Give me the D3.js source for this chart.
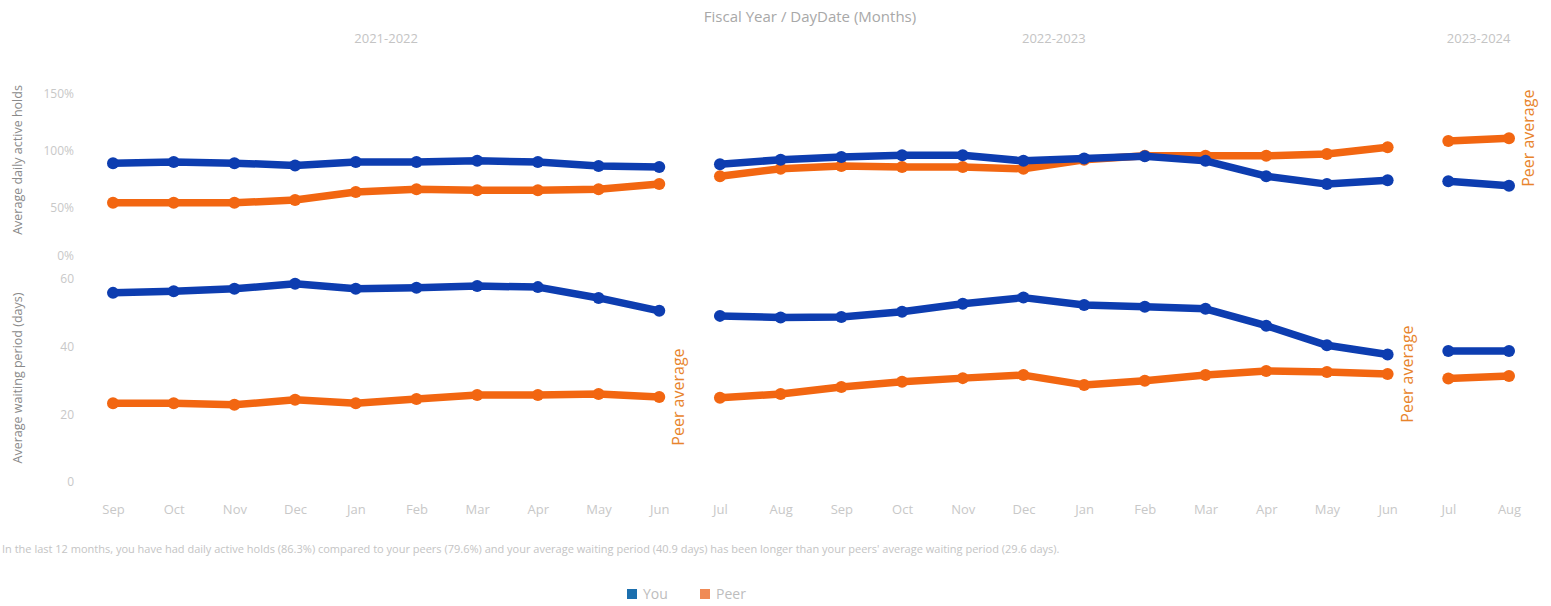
<!DOCTYPE html>
<html><head><meta charset="utf-8">
<script src="https://cdn.jsdelivr.net/npm/d3@7/dist/d3.min.js"></script>
<style>body{margin:0;background:#fff;}svg{display:block;font-family:"Open Sans",sans-serif;}</style>
</head><body><svg id="c" width="1551" height="606"></svg>
<script>
const months = ["Sep","Oct","Nov","Dec","Jan","Feb","Mar","Apr","May","Jun","Jul","Aug","Sep","Oct","Nov","Dec","Jan","Feb","Mar","Apr","May","Jun","Jul","Aug"];
const fiscalYears = ["2021-2022","2022-2023","2023-2024"];
const fyIndex = [0,0,0,0,0,0,0,0,0,0,1,1,1,1,1,1,1,1,1,1,1,1,2,2];
const youHolds  = [89,90,89,87,90,90,91,90,86.5,85.5,88,92,94.5,96,96,91,93,95,91,77.5,70.5,74,73,69];
const peerHolds = [54,54,54,56.5,63.5,66,65,65,66,70.5,77.5,84,86.5,85.5,85.5,84,92,95.5,95.5,95.5,97,103,108.5,111];
const youWait  = [55.9,56.4,57.1,58.6,57.1,57.4,57.9,57.6,54.4,50.6,49.1,48.6,48.8,50.3,52.7,54.5,52.3,51.8,51.2,46.2,40.4,37.7,38.7,38.7];
const peerWait = [23.3,23.3,22.8,24.3,23.3,24.5,25.7,25.7,26,25.1,24.9,26,28.1,29.6,30.7,31.6,28.7,29.9,31.6,32.8,32.5,31.9,30.6,31.3];
const holdTicks = [0,50,100,150];
const waitTicks = [0,20,40,60];
const peerLabelPanel = ["wait","wait","holds"];
const footnote = "In the last 12 months, you have had daily active holds (86.3%) compared to your peers (79.6%) and your average waiting period (40.9 days) has been longer than your peers' average waiting period (29.6 days).";

const svg = d3.select("#c");
const BLUE = "#0d3db0", ORANGE = "#f26611";
const x = d3.scalePoint().domain(d3.range(months.length)).range([113,1509]);
const yH = d3.scaleLinear().domain([0,150]).range([264,94]);
const yW = d3.scaleLinear().domain([0,60]).range([482,279]);

// title + fiscal years
svg.append("text").attr("x",810).attr("y",22).attr("text-anchor","middle")
  .attr("font-size",15).attr("fill","#a8a8a8").text("Fiscal Year / DayDate (Months)");
fiscalYears.forEach((fy,i)=>{
  const idx = d3.range(months.length).filter(k=>fyIndex[k]===i);
  const cx = (x(idx[0])+x(idx[idx.length-1]))/2;
  svg.append("text").attr("x",cx).attr("y",43).attr("text-anchor","middle")
    .attr("font-size",13).attr("fill","#c4c4c4").text(fy);
});

// axes
const axH = svg.append("g").attr("transform","translate(76,0)")
  .call(d3.axisLeft(yH).tickValues(holdTicks).tickFormat(d=>d+"%").tickSize(0).tickPadding(2));
const axW = svg.append("g").attr("transform","translate(76,0)")
  .call(d3.axisLeft(yW).tickValues(waitTicks).tickSize(0).tickPadding(2));
[axH,axW].forEach(a=>{a.select(".domain").remove();
  a.selectAll("text").attr("font-size",12).attr("fill","#c8c8c8").attr("font-family","Open Sans, sans-serif");});
axH.selectAll(".tick").filter(d=>d===0).attr("transform","translate(0,256)");

svg.append("text").attr("transform","translate(22,160) rotate(-90)").attr("text-anchor","middle")
  .attr("font-size",12.5).attr("fill","#8a8a8a").text("Average daily active holds");
svg.append("text").attr("transform","translate(22,378) rotate(-90)").attr("text-anchor","middle")
  .attr("font-size",12.5).attr("fill","#8a8a8a").text("Average waiting period (days)");

const axX = svg.append("g").attr("transform","translate(0,503)")
  .call(d3.axisBottom(x).tickFormat(i=>months[i]).tickSize(0).tickPadding(2));
axX.select(".domain").remove();
axX.selectAll("text").attr("font-size",13).attr("fill","#c8c8c8").attr("font-family","Open Sans, sans-serif");

// series
function drawSeries(vals, y, color){
  fiscalYears.forEach((fy,i)=>{
    const idx = d3.range(vals.length).filter(k=>fyIndex[k]===i);
    svg.append("path").datum(idx)
      .attr("d", d3.line().x(k=>x(k)).y(k=>y(vals[k])))
      .attr("fill","none").attr("stroke",color).attr("stroke-width",7.5)
      .attr("stroke-linejoin","round").attr("stroke-linecap","round");
    svg.selectAll(null).data(idx).enter().append("circle")
      .attr("cx",k=>x(k)).attr("cy",k=>y(vals[k])).attr("r",6).attr("fill",color);
  });
}
drawSeries(peerHolds, yH, ORANGE);
drawSeries(youHolds, yH, BLUE);
drawSeries(peerWait, yW, ORANGE);
drawSeries(youWait, yW, BLUE);

// peer average labels
fiscalYears.forEach((fy,i)=>{
  const idx = d3.range(months.length).filter(k=>fyIndex[k]===i);
  const last = idx[idx.length-1];
  const cy = peerLabelPanel[i]==="wait" ? yW(peerWait[last]) : yH(peerHolds[last]);
  const cx = x(last)+19;
  svg.append("text").attr("transform",`translate(${cx},${cy}) rotate(-90)`)
    .attr("text-anchor","middle").attr("dominant-baseline","central")
    .attr("font-size",16).attr("fill","#e8842c").text("Peer average");
});

// footnote
svg.append("text").attr("x",2).attr("y",553).attr("font-size",11).attr("fill","#c4c4c4").text(footnote);

// legend
const leg = [{n:"You",c:"#1c6fae",x:627},{n:"Peer",c:"#f08a55",x:700}];
leg.forEach(l=>{
  svg.append("rect").attr("x",l.x).attr("y",589).attr("width",10).attr("height",10).attr("fill",l.c);
  svg.append("text").attr("x",l.x+16).attr("y",599).attr("font-size",14).attr("fill","#bdbdbd").text(l.n);
});
</script></body></html>
